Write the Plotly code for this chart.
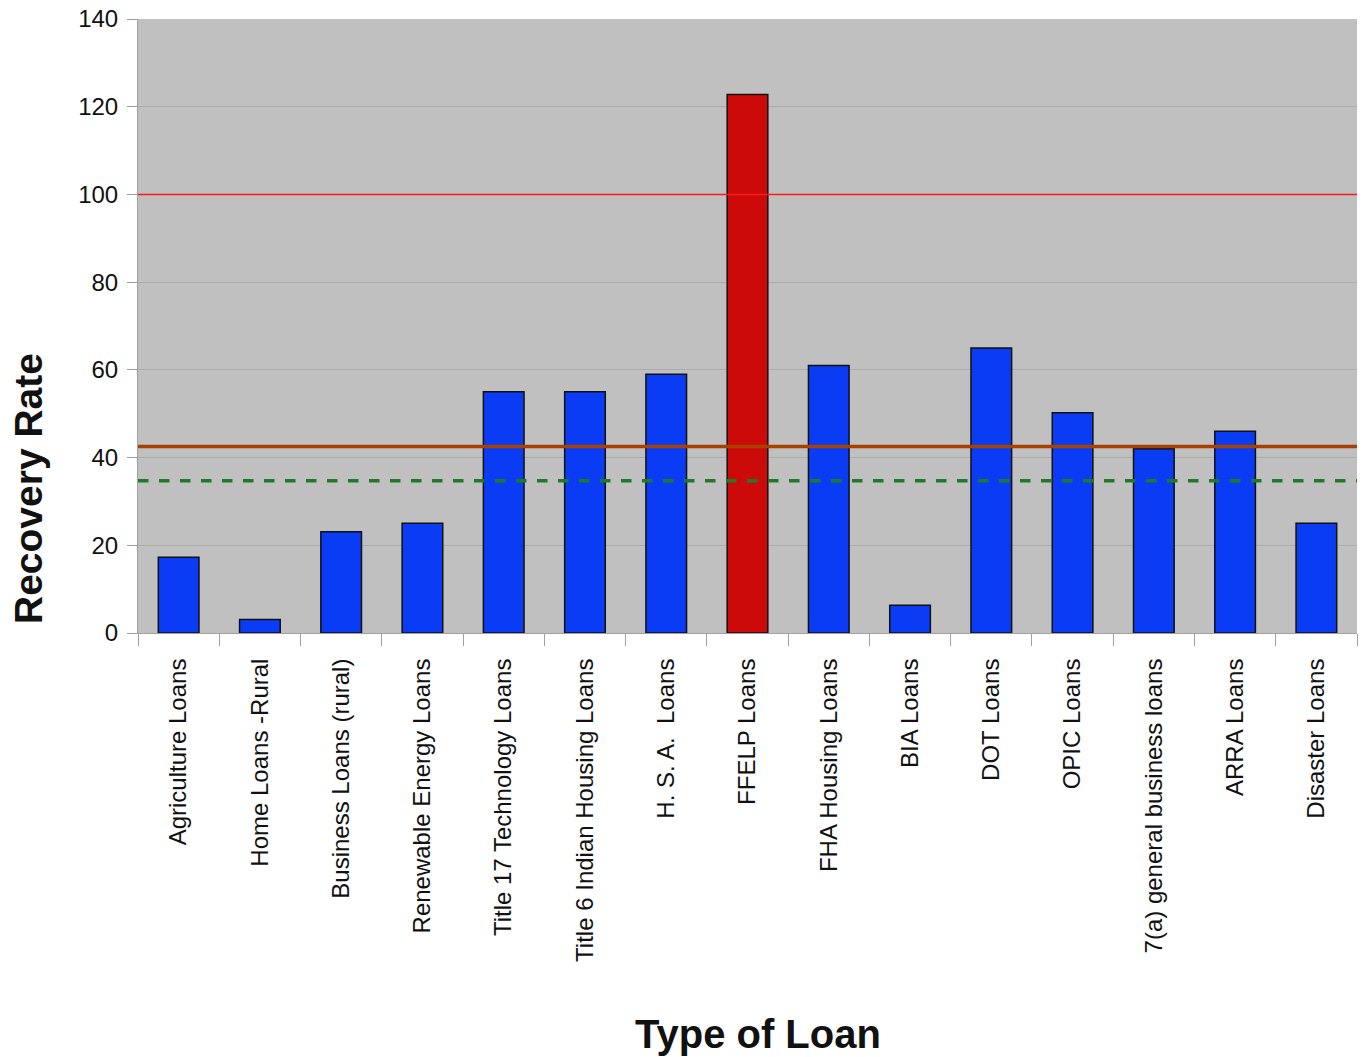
import plotly.graph_objects as go

categories = ["Agriculture Loans", "Home Loans -Rural", "Business Loans (rural)",
              "Renewable Energy Loans", "Title 17 Technology Loans",
              "Title 6 Indian Housing Loans", "H. S. A.  Loans", "FFELP Loans",
              "FHA Housing Loans", "BIA Loans", "DOT Loans", "OPIC Loans",
              "7(a) general business loans", "ARRA Loans", "Disaster Loans"]
recovery = [17.3, 3.1, 23.1, 25.0, 55.0, 55.0, 59.0, 122.8, 61.0, 6.3, 65.0, 50.2, 42.0, 46.0, 25.0]
bar_colors = ["#0a3cf5"] * 7 + ["#cc0a0a"] + ["#0a3cf5"] * 7

full_recovery = 100
average_line = 42.5
median_line = 34.7
y_ticks = [0, 20, 40, 60, 80, 100, 120, 140]

fig = go.Figure()
fig.add_trace(go.Bar(
    x=categories, y=recovery,
    marker=dict(color=bar_colors, line=dict(color="#101010", width=1.5)),
    showlegend=False,
))

fig.add_shape(type="line", xref="x domain", yref="y", x0=0, x1=1,
              y0=full_recovery, y1=full_recovery, line=dict(color="#ff1a1a", width=1.5))
fig.add_shape(type="line", xref="x domain", yref="y", x0=0, x1=1,
              y0=average_line, y1=average_line, line=dict(color="#a84000", width=3.5))
fig.add_shape(type="line", xref="x domain", yref="y", x0=0, x1=1,
              y0=median_line, y1=median_line, line=dict(color="#1e7a28", width=3.5, dash="dash"))

plot_w = 1363 - 138 - 6
plot_h = 1057 - 19 - 424

fig.update_layout(
    width=1363, height=1057,
    margin=dict(l=138, r=6, t=19, b=424),
    paper_bgcolor="white", plot_bgcolor="#c0c0c0",
    bargap=0.5,
    font=dict(family="Arial, Liberation Sans, sans-serif", color="#111111"),
    xaxis=dict(
        type="category", tickangle=-90, tickfont=dict(size=24),
        ticks="outside", ticklen=12, tickcolor="#a0a0a0", tickson="boundaries",
        ticklabelstandoff=15,
        showgrid=False, showline=True, linecolor="#a0a0a0", automargin=False,
    ),
    yaxis=dict(
        range=[0, 140], tickvals=y_ticks, tickfont=dict(size=24),
        ticks="outside", ticklen=10, tickcolor="#a0a0a0", ticklabelstandoff=4,
        showgrid=True, gridcolor="#acacac", gridwidth=1,
        showline=True, linecolor="#a0a0a0", zeroline=False, automargin=False,
    ),
    annotations=[
        dict(text="<b>Recovery Rate</b>", x=(28 - 138) / plot_w, y=(634 - 490) / plot_h,
             xref="paper", yref="paper",
             showarrow=False, textangle=-90, font=dict(size=39),
             xanchor="center", yanchor="middle"),
        dict(text="<b>Type of Loan</b>", x=(758 - 138) / plot_w, y=(634 - 1035) / plot_h,
             xref="paper", yref="paper",
             showarrow=False, font=dict(size=40), xanchor="center", yanchor="middle"),
    ],
)

fig.write_html("out.html")
